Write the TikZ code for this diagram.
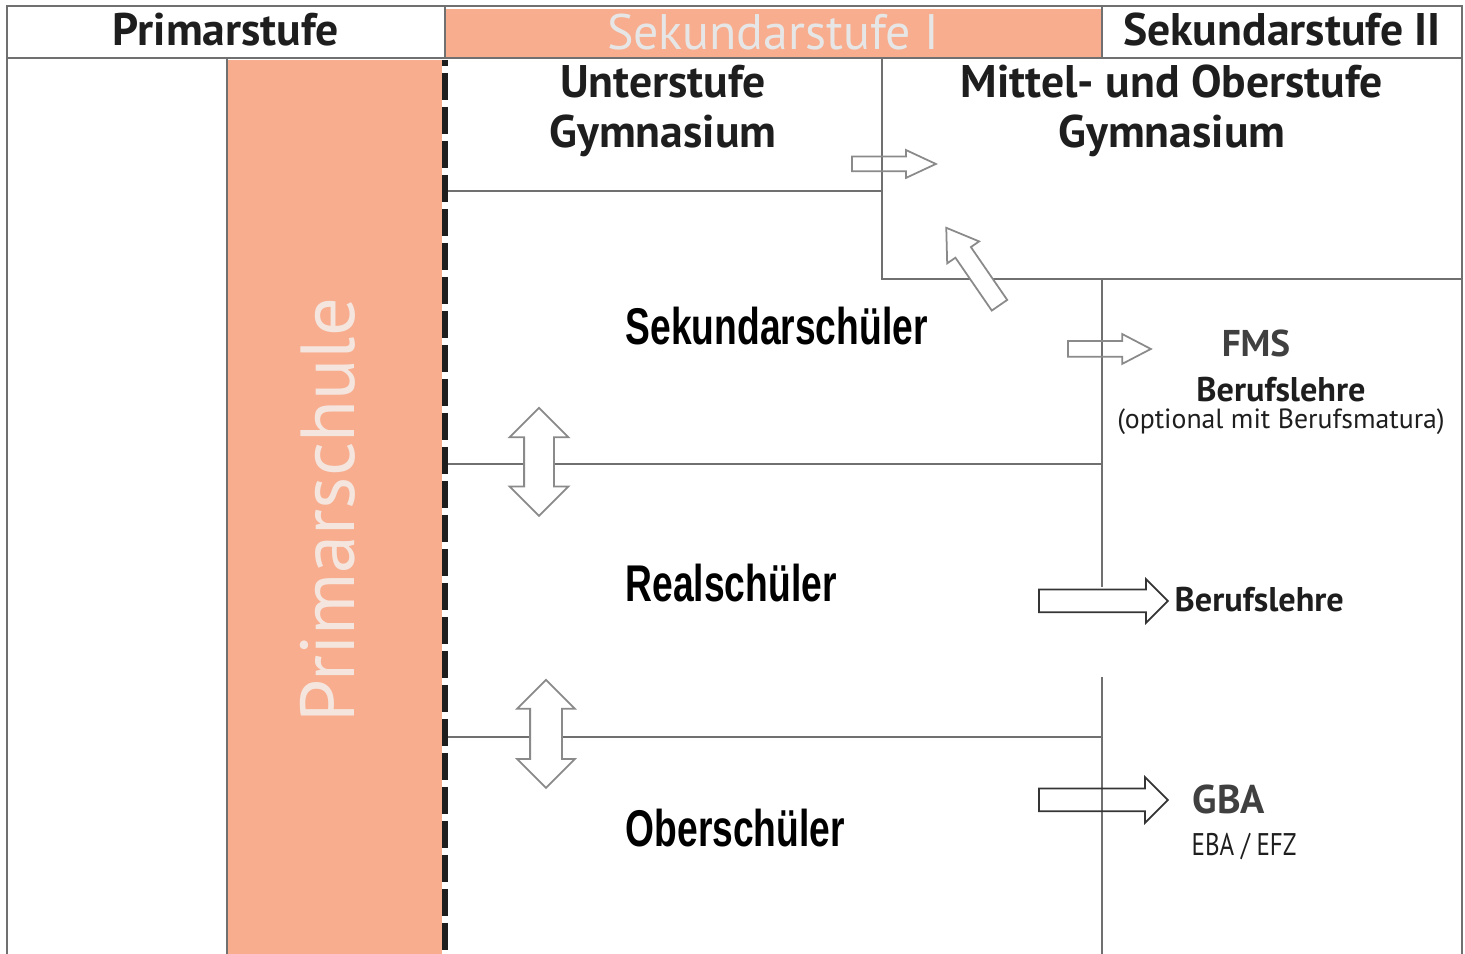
\documentclass[tikz,border=0pt]{standalone}
\usepackage{fontspec}
\setmainfont{PT Sans}
\newfontfamily\schmalfont[FakeStretch=0.72]{Liberation Sans}
\newfontfamily\engfont[FakeStretch=0.8]{PT Sans}
\usetikzlibrary{positioning,shapes.arrows}

\definecolor{lachs}{HTML}{F8AD8E}
\definecolor{linie}{HTML}{707070}
\definecolor{schrift}{HTML}{1E1E1E}
\definecolor{hellgrau}{HTML}{E6E6E6}
\definecolor{pfeilgrau}{HTML}{8A8A8A}
\definecolor{blass}{HTML}{F4E6DF}

\tikzset{
  rahmen/.style={draw=linie,line width=0.6pt},
  kopf/.style={text=schrift,font=\fontsize{13}{14}\selectfont\bfseries,anchor=base},
  stufe/.style={text=schrift,font=\fontsize{13}{14.2}\selectfont\bfseries,align=center},
  schueler/.style={text=black,font=\schmalfont\fontsize{14.7}{16}\selectfont\bfseries,anchor=base west,inner sep=0pt},
  abschluss/.style={text=schrift,font=\fontsize{9.75}{11}\selectfont\bfseries},
  blockpfeil/.style={shape=single arrow,draw=pfeilgrau,line width=0.5pt,
    inner xsep=0pt,minimum width=0pt,anchor=tail},
  doppelpfeil/.style={shape=double arrow,draw=pfeilgrau,fill=white,line width=0.5pt,
    inner xsep=0pt,minimum width=0pt,rotate=90,minimum height=1.08cm},
}

\begin{document}
\begin{tikzpicture}

		\useasboundingbox
		(0,0)
		rectangle
		(14.65,9.54);

		% Flaechen
		\fill[lachs]
		(4.46,8.97)
		rectangle
		(11.01,9.45);

		\fill[lachs]
		(2.28,0)
		rectangle
		(4.42,8.94);

		% Rahmen und Kopfzeile
		\draw[rahmen]
		(0.07,0) -- (0.07,9.48) -- (14.62,9.48) -- (14.62,0);

		\draw[rahmen]
		(0.07,8.96) -- (14.62,8.96);

		\draw[rahmen]
		(4.45,8.96) -- (4.45,9.48);

		\draw[rahmen]
		(11.02,8.96) -- (11.02,9.48);

		\draw[rahmen]
		(2.27,0) -- (2.27,8.96);

		% Gymnasium
		\draw[rahmen]
		(4.45,7.63) -- (8.82,7.63);

		\draw[rahmen]
		(8.82,8.96) -- (8.82,6.75) -- (14.62,6.75);

		% Sekundarschule
		\draw[rahmen]
		(11.02,6.75) -- (11.02,3.67);

		\draw[rahmen]
		(11.02,2.77) -- (11.02,0);

		\draw[rahmen]
		(4.45,4.90) -- (11.02,4.90);

		\draw[rahmen]
		(4.45,2.17) -- (11.02,2.17);

		\draw[schrift,line width=1.85pt,dash pattern=on 0.27cm off 0.07cm,dash phase=0.21cm]
		(4.45,8.94) -- (4.45,0);

		% Texte
		\node[kopf] (prim) at (2.26,9.08)
		{Primarstufe};

		\node[text=hellgrau,font=\fontsize{14.2}{16}\selectfont,anchor=base] (sekI) at (7.73,9.04)
		{Sekundarstufe I};

		\node[kopf] (sekII) at (12.82,9.08)
		{Sekundarstufe II};

		\node[text=blass,font=\fontsize{21.8}{24}\selectfont,rotate=90,anchor=base] (primschule) at (3.54,4.44)
		{Primarschule};

		\node[stufe] (unterstufe) at (6.63,8.43)
		{Unterstufe\\Gymnasium};

		\node[stufe] (oberstufe) at (11.72,8.43)
		{Mittel- und Oberstufe\\Gymnasium};

		\node[schueler] (sek) at (6.25,6.09)
		{Sekundarschüler};

		\node[schueler] (real) at (6.25,3.52)
		{Realschüler};

		\node[schueler] (ober) at (6.25,1.07)
		{Oberschüler};

		\node[text=schrift!85,font=\fontsize{10.6}{12}\selectfont\bfseries,anchor=base] (fms) at (12.56,5.97)
		{FMS};

		\node[abschluss,anchor=base] (lehreA) at (12.81,5.52)
		{Berufslehre};

		\node[text=schrift,font=\fontsize{7.9}{9}\selectfont,anchor=base] (matura) at (12.81,5.25)
		{(optional mit Berufsmatura)};

		\node[abschluss,anchor=base west,inner sep=0pt] (lehreB) at (11.74,3.42)
		{Berufslehre};

		\node[text=schrift!85,font=\fontsize{11.4}{13}\selectfont\bfseries,anchor=base west,inner sep=0pt] (gba) at (11.92,1.40)
		{GBA};

		\node[text=schrift,font=\engfont\fontsize{8.9}{10}\selectfont,anchor=base west,inner sep=0pt] (eba) at (11.91,0.98)
		{EBA / EFZ};

		% Pfeile
		\node[blockpfeil,inner ysep=0.065cm,single arrow head extend=0.065cm,
		single arrow tip angle=50,minimum height=0.84cm] (pfeilGym) at (8.51,7.90) {};

		\node[blockpfeil,fill=white,inner ysep=0.085cm,single arrow head extend=0.1cm,
		single arrow tip angle=66,minimum height=0.94cm,rotate=124.5] (pfeilUeber) at (10.00,6.48) {};

		\node[blockpfeil,inner ysep=0.07cm,single arrow head extend=0.07cm,
		single arrow tip angle=55,minimum height=0.83cm] (pfeilFms) at (10.67,6.05) {};

		\node[blockpfeil,draw=schrift!90,inner ysep=0.105cm,single arrow head extend=0.105cm,
		single arrow tip angle=90,minimum height=1.29cm] (pfeilLehre) at (10.38,3.53) {};

		\node[blockpfeil,draw=schrift!90,inner ysep=0.105cm,single arrow head extend=0.115cm,
		single arrow tip angle=90,minimum height=1.29cm] (pfeilGba) at (10.38,1.54) {};

		\node[doppelpfeil,inner ysep=0.14cm,double arrow head extend=0.145cm] (wechselA) at (5.39,4.92) {};

		\node[doppelpfeil,inner ysep=0.15cm,double arrow head extend=0.13cm] (wechselB) at (5.46,2.20) {};

\end{tikzpicture}
\end{document}
